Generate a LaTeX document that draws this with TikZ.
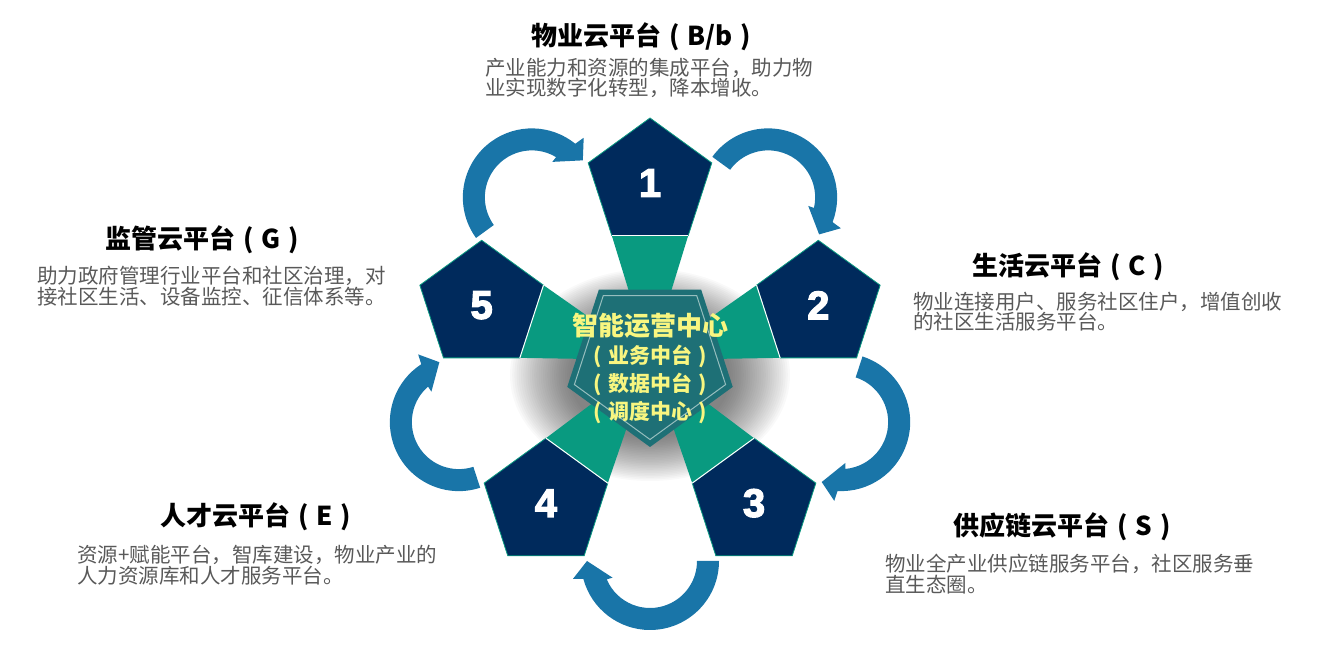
\documentclass[tikz,border=0pt]{standalone}
\usepackage{fontspec}
\setmainfont{Noto Sans CJK SC}
\newfontfamily\numfont{Liberation Sans}[UprightFont=* Bold, UprightFeatures={FakeBold=3}]
\usetikzlibrary{shapes.geometric,calc}
\definecolor{navy}{RGB}{0,42,92}
\definecolor{wedge}{RGB}{9,154,128}
\definecolor{cteal}{RGB}{30,112,118}
\definecolor{cline}{RGB}{150,190,190}
\definecolor{arrowblue}{RGB}{25,117,168}
\definecolor{desc}{RGB}{89,89,89}
\definecolor{ctext}{RGB}{248,246,128}
\newcommand\LP{\makebox[1em][c]{(}}
\newcommand\RP{\makebox[1em][c]{)}}
\tikzset{
  pent/.style={regular polygon, regular polygon sides=5, minimum size=130pt, inner sep=0pt, outer sep=0pt, fill=navy, draw=wedge, line width=0.8pt, text=white, font=\numfont\fontsize{40}{40}\selectfont},
  title/.style={font=\bfseries\fontsize{26}{28}\selectfont, text=black, inner sep=0pt},
  desc/.style={font=\fontsize{20.5}{20.5}\selectfont, text=desc, align=left, anchor=west, inner sep=0pt},
  cpent/.style={regular polygon, regular polygon sides=5, shape border rotate=180, inner sep=0pt, outer sep=0pt},
  sep/.style={white, line width=1pt},
}
\begin{document}
\begin{tikzpicture}[x=1pt,y=1pt]
\useasboundingbox (0,0) rectangle (1323,647);
\coordinate (C) at (650,287);
% soft shadow round the centre
\foreach \i in {0,...,27}{
  \fill[black, opacity=0.022] (650,272) ellipse [x radius={140-2.2*\i}, y radius={106-1.6*\i}];
}
% outer pentagons
\node[pent] (p1) at ($(C)+(90:177)$) {1};
\node[pent] (p2) at ($(C)+(18:177)$) {2};
\node[pent] (p3) at ($(C)+(-54:177)$) {3};
\node[pent] (p4) at ($(C)+(-126:177)$) {4};
\node[pent] (p5) at ($(C)+(162:177)$) {5};
% wedges
\fill[wedge] (C) -- (p1.corner 3) -- (p1.corner 4) -- cycle;
\fill[wedge] (C) -- (p2.corner 2) -- (p2.corner 3) -- cycle;
\fill[wedge] (C) -- (p3.corner 1) -- (p3.corner 2) -- cycle;
\fill[wedge] (C) -- (p4.corner 5) -- (p4.corner 1) -- cycle;
\fill[wedge] (C) -- (p5.corner 4) -- (p5.corner 5) -- cycle;
\draw[sep] (p1.corner 3) -- (p1.corner 4);
\draw[sep] (p2.corner 2) -- (p2.corner 3);
\draw[sep] (p3.corner 1) -- (p3.corner 2);
\draw[sep] (p4.corner 5) -- (p4.corner 1);
\draw[sep] (p5.corner 4) -- (p5.corner 5);
% circular arrows
\foreach \t in {54,-18,-90,-162,126}{
  \begin{scope}[shift={(C)}, rotate=\t, shift={(201,0)}]
    \fill[arrowblue] (90:69) arc[start angle=90, end angle=-75, radius=69] -- (-77:79) -- (-90:63) -- (-66:41) -- (-67:47) arc[start angle=-67, end angle=90, radius=47] -- cycle;
  \end{scope}
}
% centre
\node[cpent, minimum size=174pt, fill=cteal] (cp) at (C) {};
\node[cpent, minimum size=159pt, draw=cline, line width=1pt] (cpi) at (C) {};
\node[font=\bfseries\fontsize{21}{28}\selectfont, text=ctext, align=center, inner sep=0pt] (ct) at (650,279)
  {{\fontsize{26}{28}\selectfont 智能运营中心}\\\LP 业务中台\RP\\\LP 数据中台\RP\\\LP 调度中心\RP};
% titles
\node[title] (t1) at (645,610) {物业云平台\LP B/b\RP};
\node[title] (t2) at (1072,380) {生活云平台\LP C\RP};
\node[title] (t3) at (1066,120) {供应链云平台\LP S\RP};
\node[title] (t4) at (260,130) {人才云平台\LP E\RP};
\node[title] (t5) at (206,407) {监管云平台\LP G\RP};
% descriptions
\node[desc] (d1) at (485,569) {产业能力和资源的集成平台，助力物\\业实现数字化转型，降本增收。};
\node[desc] (d2) at (913,335.5) {物业连接用户、服务社区住户，增值创收\\的社区生活服务平台。};
\node[desc] (d3) at (885,73) {物业全产业供应链服务平台，社区服务垂\\直生态圈。};
\node[desc] (d4) at (77,82) {资源+赋能平台，智库建设，物业产业的\\人力资源库和人才服务平台。};
\node[desc] (d5) at (37,361) {助力政府管理行业平台和社区治理，对\\接社区生活、设备监控、征信体系等。};
\end{tikzpicture}
\end{document}
